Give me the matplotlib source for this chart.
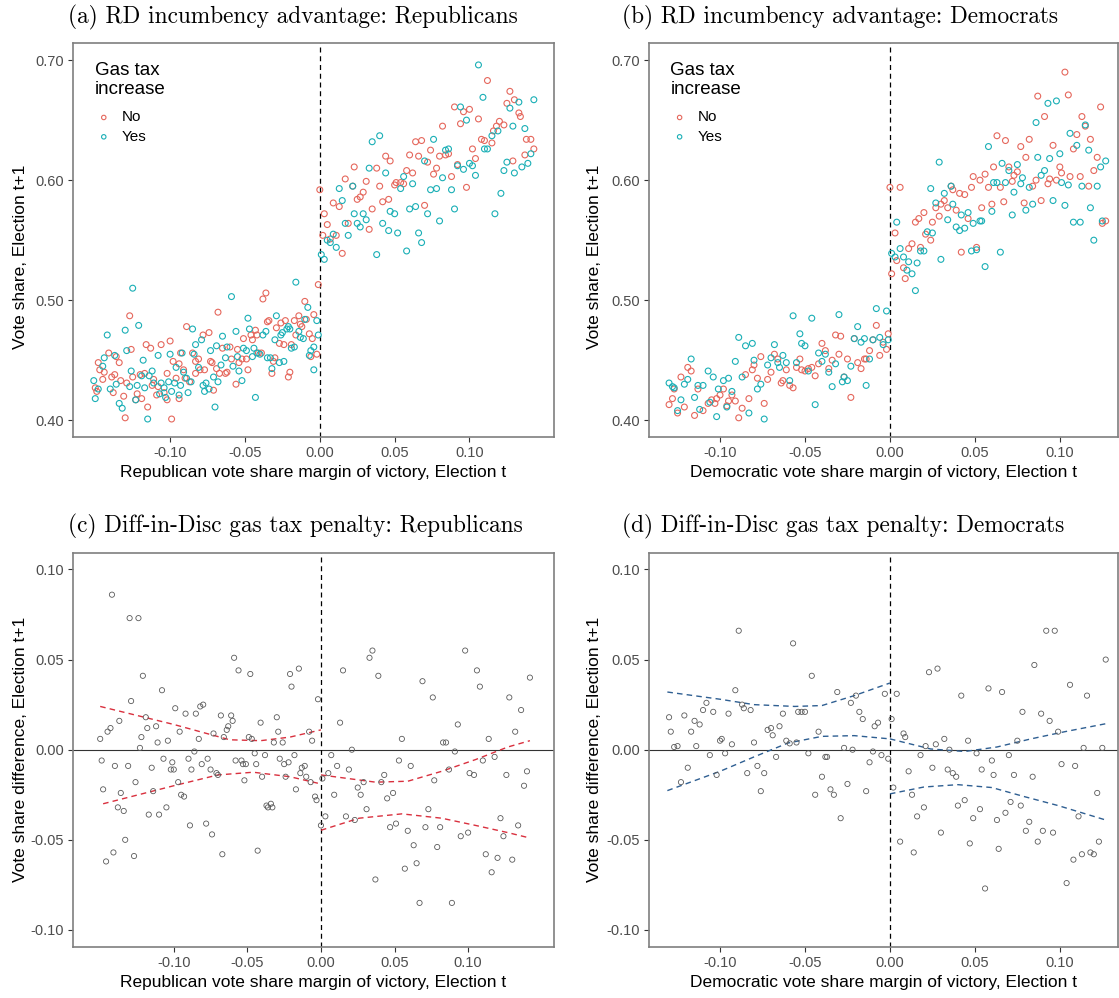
import matplotlib.pyplot as plt

plt.rcParams['axes.unicode_minus'] = False
plt.rcParams['font.family'] = ['Liberation Sans', 'DejaVu Sans']

# (a) Republicans, RD plot: (margin, vote share t+1)
a_no = [(-0.148, 0.448), (-0.147, 0.442), (-0.144, 0.440), (-0.145, 0.434), (-0.150, 0.427), (-0.149, 0.424),
        (-0.141, 0.456), (-0.139, 0.436), (-0.137, 0.438), (-0.138, 0.423), (-0.136, 0.453), (-0.134, 0.448),
        (-0.133, 0.433), (-0.131, 0.420), (-0.130, 0.402), (-0.129, 0.431), (-0.127, 0.487), (-0.126, 0.459),
        (-0.125, 0.436), (-0.122, 0.422), (-0.123, 0.417), (-0.120, 0.438), (-0.119, 0.418), (-0.117, 0.439),
        (-0.116, 0.463), (-0.115, 0.411), (-0.113, 0.460), (-0.112, 0.429), (-0.111, 0.434), (-0.109, 0.421),
        (-0.108, 0.428), (-0.106, 0.463), (-0.104, 0.423), (-0.102, 0.417), (-0.102, 0.439), (-0.100, 0.466),
        (-0.099, 0.401), (-0.098, 0.449), (-0.096, 0.435), (-0.094, 0.447), (-0.094, 0.418), (-0.093, 0.456),
        (-0.091, 0.442), (-0.090, 0.435), (-0.089, 0.478), (-0.087, 0.432), (-0.085, 0.456), (-0.083, 0.449),
        (-0.083, 0.439), (-0.081, 0.451), (-0.080, 0.442), (-0.078, 0.471), (-0.077, 0.442), (-0.074, 0.473),
        (-0.073, 0.449), (-0.072, 0.448), (-0.071, 0.425), (-0.069, 0.443), (-0.068, 0.490), (-0.067, 0.439),
        (-0.065, 0.460), (-0.063, 0.439), (-0.062, 0.440), (-0.060, 0.461), (-0.059, 0.451), (-0.056, 0.430),
        (-0.055, 0.459), (-0.054, 0.448), (-0.052, 0.451), (-0.051, 0.468), (-0.049, 0.451), (-0.048, 0.442),
        (-0.046, 0.471), (-0.045, 0.467), (-0.043, 0.475), (-0.042, 0.471), (-0.041, 0.456), (-0.039, 0.456),
        (-0.038, 0.501), (-0.036, 0.506), (-0.035, 0.482), (-0.034, 0.483), (-0.032, 0.439), (-0.031, 0.449),
        (-0.030, 0.452), (-0.029, 0.477), (-0.027, 0.464), (-0.026, 0.481), (-0.024, 0.463), (-0.023, 0.483),
        (-0.021, 0.436), (-0.020, 0.440), (-0.019, 0.463), (-0.017, 0.483), (-0.016, 0.471), (-0.014, 0.487),
        (-0.013, 0.480), (-0.012, 0.478), (-0.010, 0.499), (-0.009, 0.484), (-0.007, 0.472), (-0.006, 0.453),
        (-0.005, 0.468), (-0.004, 0.488), (-0.002, 0.455), (-0.001, 0.513),
        (0.000, 0.592), (0.003, 0.572), (0.005, 0.563), (0.002, 0.554), (0.007, 0.551), (0.009, 0.581),
        (0.011, 0.554), (0.013, 0.578), (0.015, 0.539), (0.017, 0.601), (0.019, 0.564), (0.022, 0.595),
        (0.023, 0.611), (0.025, 0.584), (0.027, 0.586), (0.029, 0.590), (0.031, 0.599), (0.033, 0.559),
        (0.035, 0.576), (0.038, 0.610), (0.040, 0.595), (0.042, 0.582), (0.044, 0.620), (0.046, 0.584),
        (0.047, 0.616), (0.050, 0.596), (0.051, 0.598), (0.054, 0.598), (0.056, 0.597), (0.058, 0.608),
        (0.060, 0.621), (0.062, 0.606), (0.064, 0.632), (0.066, 0.620), (0.068, 0.633), (0.070, 0.579),
        (0.072, 0.615), (0.074, 0.625), (0.076, 0.605), (0.078, 0.610), (0.080, 0.620), (0.082, 0.645),
        (0.084, 0.621), (0.086, 0.622), (0.088, 0.603), (0.090, 0.661), (0.092, 0.613), (0.094, 0.647),
        (0.096, 0.657), (0.098, 0.594), (0.100, 0.659), (0.102, 0.626), (0.104, 0.618), (0.106, 0.651),
        (0.108, 0.634), (0.110, 0.633), (0.112, 0.683), (0.115, 0.631), (0.116, 0.641), (0.118, 0.645),
        (0.120, 0.649), (0.123, 0.646), (0.125, 0.664), (0.127, 0.674), (0.129, 0.616), (0.130, 0.667),
        (0.133, 0.656), (0.134, 0.653), (0.137, 0.621), (0.138, 0.634), (0.141, 0.634), (0.143, 0.626)]

a_yes = [(-0.151, 0.433), (-0.148, 0.426), (-0.150, 0.418), (-0.145, 0.445), (-0.144, 0.452), (-0.142, 0.471),
         (-0.140, 0.426), (-0.137, 0.454), (-0.136, 0.430), (-0.134, 0.414), (-0.132, 0.410), (-0.130, 0.475),
         (-0.129, 0.458), (-0.127, 0.428), (-0.126, 0.441), (-0.125, 0.510), (-0.123, 0.417), (-0.122, 0.429),
         (-0.121, 0.479), (-0.119, 0.437), (-0.118, 0.450), (-0.117, 0.427), (-0.115, 0.401), (-0.114, 0.437),
         (-0.112, 0.441), (-0.111, 0.431), (-0.108, 0.454), (-0.107, 0.422), (-0.106, 0.431), (-0.104, 0.427),
         (-0.103, 0.419), (-0.101, 0.432), (-0.100, 0.455), (-0.099, 0.424), (-0.097, 0.431), (-0.096, 0.444),
         (-0.094, 0.421), (-0.093, 0.429), (-0.092, 0.456), (-0.091, 0.440), (-0.089, 0.435), (-0.088, 0.423),
         (-0.086, 0.432), (-0.085, 0.476), (-0.084, 0.455), (-0.083, 0.463), (-0.081, 0.444), (-0.079, 0.467),
         (-0.078, 0.429), (-0.077, 0.424), (-0.076, 0.431), (-0.074, 0.426), (-0.073, 0.458), (-0.071, 0.436),
         (-0.070, 0.411), (-0.069, 0.462), (-0.068, 0.432), (-0.066, 0.446), (-0.065, 0.470), (-0.063, 0.452),
         (-0.062, 0.461), (-0.059, 0.503), (-0.058, 0.445), (-0.056, 0.474), (-0.055, 0.453), (-0.054, 0.441),
         (-0.052, 0.433), (-0.051, 0.460), (-0.049, 0.458), (-0.048, 0.485), (-0.047, 0.476), (-0.045, 0.453),
         (-0.044, 0.460), (-0.043, 0.419), (-0.042, 0.456), (-0.040, 0.455), (-0.038, 0.471), (-0.036, 0.474),
         (-0.035, 0.452), (-0.033, 0.452), (-0.032, 0.443), (-0.030, 0.467), (-0.029, 0.487), (-0.027, 0.448),
         (-0.026, 0.471), (-0.025, 0.473), (-0.024, 0.449), (-0.022, 0.476), (-0.021, 0.478), (-0.020, 0.476),
         (-0.019, 0.460), (-0.017, 0.461), (-0.016, 0.515), (-0.014, 0.474), (-0.013, 0.469), (-0.011, 0.468),
         (-0.010, 0.484), (-0.008, 0.494), (-0.007, 0.454), (-0.006, 0.458), (-0.004, 0.442), (-0.004, 0.461),
         (-0.002, 0.483), (-0.001, 0.471),
         (0.001, 0.538), (0.003, 0.534), (0.005, 0.550), (0.007, 0.548), (0.009, 0.555), (0.011, 0.544),
         (0.013, 0.593), (0.015, 0.583), (0.017, 0.564), (0.019, 0.554), (0.022, 0.595), (0.023, 0.572),
         (0.025, 0.564), (0.027, 0.561), (0.029, 0.572), (0.031, 0.567), (0.033, 0.610), (0.035, 0.632),
         (0.038, 0.538), (0.040, 0.637), (0.042, 0.564), (0.044, 0.606), (0.046, 0.558), (0.047, 0.574),
         (0.050, 0.572), (0.052, 0.556), (0.054, 0.593), (0.056, 0.603), (0.058, 0.541), (0.060, 0.576),
         (0.062, 0.597), (0.064, 0.578), (0.066, 0.556), (0.068, 0.548), (0.070, 0.616), (0.072, 0.572),
         (0.074, 0.592), (0.076, 0.634), (0.078, 0.593), (0.080, 0.566), (0.082, 0.602), (0.084, 0.625),
         (0.086, 0.626), (0.088, 0.592), (0.090, 0.576), (0.092, 0.612), (0.094, 0.661), (0.096, 0.609),
         (0.098, 0.650), (0.100, 0.614), (0.102, 0.612), (0.104, 0.604), (0.106, 0.696), (0.109, 0.669),
         (0.110, 0.626), (0.112, 0.626), (0.115, 0.637), (0.117, 0.572), (0.119, 0.641), (0.121, 0.589),
         (0.123, 0.608), (0.125, 0.615), (0.127, 0.660), (0.129, 0.645), (0.130, 0.606), (0.133, 0.665),
         (0.135, 0.611), (0.137, 0.643), (0.139, 0.614), (0.141, 0.622), (0.143, 0.667)]

# (b) Democrats, RD plot
b_no = [(-0.130, 0.413), (-0.128, 0.418), (-0.127, 0.426), (-0.125, 0.406), (-0.123, 0.436), (-0.121, 0.411),
        (-0.119, 0.444), (-0.117, 0.441), (-0.115, 0.404), (-0.113, 0.426), (-0.110, 0.408), (-0.107, 0.414),
        (-0.105, 0.417), (-0.103, 0.414), (-0.102, 0.418), (-0.100, 0.421), (-0.098, 0.426), (-0.096, 0.412),
        (-0.095, 0.416), (-0.093, 0.421), (-0.091, 0.416), (-0.089, 0.402), (-0.087, 0.410), (-0.085, 0.438),
        (-0.083, 0.418), (-0.081, 0.442), (-0.080, 0.446), (-0.078, 0.435), (-0.076, 0.453), (-0.074, 0.414),
        (-0.072, 0.434), (-0.070, 0.440), (-0.068, 0.455), (-0.066, 0.451), (-0.064, 0.431), (-0.063, 0.433),
        (-0.061, 0.442), (-0.059, 0.429), (-0.057, 0.427), (-0.055, 0.444), (-0.053, 0.451), (-0.052, 0.442),
        (-0.050, 0.441), (-0.048, 0.443), (-0.046, 0.444), (-0.044, 0.437), (-0.042, 0.447), (-0.040, 0.464),
        (-0.038, 0.458), (-0.036, 0.443), (-0.034, 0.450), (-0.032, 0.471), (-0.030, 0.455), (-0.029, 0.470),
        (-0.027, 0.436), (-0.025, 0.451), (-0.023, 0.419), (-0.021, 0.468), (-0.019, 0.448), (-0.017, 0.443),
        (-0.015, 0.451), (-0.014, 0.451), (-0.012, 0.458), (-0.010, 0.467), (-0.008, 0.479), (-0.006, 0.454),
        (-0.004, 0.465), (-0.002, 0.459), (-0.001, 0.472),
        (0.000, 0.594), (0.006, 0.594), (0.003, 0.556), (0.001, 0.522), (0.004, 0.533), (0.008, 0.527),
        (0.009, 0.518), (0.011, 0.543), (0.013, 0.547), (0.015, 0.565), (0.017, 0.568), (0.018, 0.544),
        (0.020, 0.573), (0.021, 0.555), (0.024, 0.550), (0.025, 0.565), (0.027, 0.577), (0.029, 0.570),
        (0.030, 0.580), (0.032, 0.583), (0.034, 0.577), (0.036, 0.595), (0.037, 0.592), (0.039, 0.575),
        (0.041, 0.589), (0.042, 0.540), (0.044, 0.588), (0.046, 0.568), (0.048, 0.594), (0.049, 0.603),
        (0.051, 0.544), (0.053, 0.600), (0.054, 0.577), (0.056, 0.605), (0.058, 0.594), (0.060, 0.580),
        (0.061, 0.611), (0.063, 0.637), (0.065, 0.594), (0.067, 0.582), (0.068, 0.633), (0.070, 0.611),
        (0.072, 0.599), (0.073, 0.604), (0.075, 0.607), (0.077, 0.628), (0.079, 0.581), (0.080, 0.619),
        (0.082, 0.634), (0.084, 0.595), (0.086, 0.600), (0.087, 0.670), (0.089, 0.583), (0.091, 0.653),
        (0.093, 0.597), (0.094, 0.601), (0.096, 0.629), (0.098, 0.600), (0.100, 0.611), (0.101, 0.606),
        (0.103, 0.690), (0.105, 0.671), (0.106, 0.603), (0.108, 0.626), (0.110, 0.638), (0.112, 0.603),
        (0.113, 0.653), (0.115, 0.645), (0.117, 0.595), (0.118, 0.634), (0.120, 0.608), (0.122, 0.619),
        (0.124, 0.661), (0.125, 0.564), (0.127, 0.566)]

b_yes = [(-0.130, 0.431), (-0.128, 0.428), (-0.127, 0.427), (-0.125, 0.408), (-0.123, 0.417), (-0.121, 0.430),
         (-0.119, 0.434), (-0.117, 0.451), (-0.115, 0.419), (-0.113, 0.429), (-0.112, 0.409), (-0.110, 0.429),
         (-0.107, 0.441), (-0.106, 0.415), (-0.104, 0.436), (-0.102, 0.403), (-0.101, 0.426), (-0.098, 0.433),
         (-0.096, 0.411), (-0.095, 0.435), (-0.093, 0.424), (-0.091, 0.449), (-0.089, 0.469), (-0.087, 0.436),
         (-0.085, 0.462), (-0.083, 0.406), (-0.081, 0.464), (-0.080, 0.450), (-0.078, 0.426), (-0.076, 0.430),
         (-0.074, 0.401), (-0.072, 0.446), (-0.070, 0.452), (-0.068, 0.463), (-0.066, 0.448), (-0.065, 0.444),
         (-0.063, 0.454), (-0.061, 0.448), (-0.059, 0.433), (-0.057, 0.487), (-0.055, 0.448), (-0.053, 0.472),
         (-0.052, 0.464), (-0.050, 0.462), (-0.048, 0.441), (-0.046, 0.485), (-0.044, 0.413), (-0.042, 0.456),
         (-0.040, 0.449), (-0.038, 0.455), (-0.036, 0.440), (-0.034, 0.428), (-0.032, 0.447), (-0.030, 0.488),
         (-0.028, 0.432), (-0.027, 0.436), (-0.025, 0.433), (-0.023, 0.445), (-0.021, 0.468), (-0.019, 0.478),
         (-0.017, 0.465), (-0.015, 0.468), (-0.014, 0.429), (-0.012, 0.451), (-0.010, 0.467), (-0.008, 0.493),
         (-0.006, 0.469), (-0.004, 0.463), (-0.002, 0.491), (-0.001, 0.467),
         (0.001, 0.539), (0.003, 0.536), (0.004, 0.565), (0.006, 0.543), (0.008, 0.536), (0.010, 0.525),
         (0.011, 0.532), (0.013, 0.522), (0.015, 0.508), (0.016, 0.531), (0.018, 0.541), (0.020, 0.541),
         (0.022, 0.557), (0.024, 0.593), (0.025, 0.556), (0.027, 0.581), (0.029, 0.615), (0.030, 0.534),
         (0.032, 0.589), (0.034, 0.567), (0.036, 0.595), (0.037, 0.580), (0.039, 0.561), (0.041, 0.558),
         (0.042, 0.571), (0.044, 0.560), (0.046, 0.573), (0.048, 0.541), (0.049, 0.564), (0.051, 0.542),
         (0.053, 0.566), (0.054, 0.566), (0.056, 0.528), (0.058, 0.628), (0.060, 0.574), (0.061, 0.598),
         (0.063, 0.598), (0.065, 0.540), (0.066, 0.614), (0.068, 0.598), (0.070, 0.608), (0.072, 0.571),
         (0.073, 0.590), (0.075, 0.613), (0.077, 0.597), (0.078, 0.602), (0.080, 0.575), (0.082, 0.594),
         (0.084, 0.580), (0.086, 0.648), (0.087, 0.619), (0.089, 0.604), (0.091, 0.608), (0.093, 0.664),
         (0.094, 0.618), (0.096, 0.583), (0.098, 0.666), (0.100, 0.622), (0.101, 0.598), (0.103, 0.579),
         (0.105, 0.596), (0.106, 0.639), (0.108, 0.565), (0.110, 0.629), (0.112, 0.565), (0.113, 0.595),
         (0.115, 0.646), (0.117, 0.625), (0.118, 0.577), (0.120, 0.550), (0.122, 0.595), (0.124, 0.611),
         (0.125, 0.566), (0.127, 0.616)]

# (c) Republicans, diff-in-disc: (margin, vote share difference)
c_pts = [(-0.142, 0.086), (-0.130, 0.073), (-0.124, 0.073), (-0.121, 0.041), (-0.129, 0.027), (-0.108, 0.033),
         (-0.150, 0.006), (-0.145, 0.010), (-0.143, 0.012), (-0.137, 0.016), (-0.122, 0.007), (-0.119, 0.018),
         (-0.118, 0.012), (-0.112, 0.013), (-0.111, 0.004), (-0.104, 0.005), (-0.123, 0.001), (-0.099, 0.023),
         (-0.096, 0.010), (-0.092, 0.020), (-0.085, 0.020), (-0.082, 0.024), (-0.080, 0.025), (-0.083, 0.006),
         (-0.086, -0.001), (-0.073, 0.009), (-0.068, 0.019), (-0.066, 0.007), (-0.064, 0.011), (-0.063, 0.013),
         (-0.061, 0.019), (-0.060, 0.016), (-0.059, 0.051), (-0.056, 0.044), (-0.048, 0.042), (-0.049, 0.007),
         (-0.047, 0.006), (-0.041, 0.015), (-0.030, 0.018), (-0.029, 0.010), (-0.032, 0.004), (-0.026, 0.004),
         (-0.021, 0.042), (-0.020, 0.035), (-0.015, 0.045), (-0.008, 0.010), (-0.006, 0.005), (-0.002, 0.028),
         (-0.149, -0.006), (-0.140, -0.009), (-0.131, -0.009), (-0.115, -0.010), (-0.107, -0.005), (-0.101, -0.007),
         (-0.102, -0.011), (-0.100, -0.011), (-0.090, -0.005), (-0.088, -0.011), (-0.081, -0.008), (-0.077, -0.005),
         (-0.075, -0.011), (-0.071, -0.013), (-0.070, -0.014), (-0.058, -0.006), (-0.054, -0.006), (-0.053, -0.008),
         (-0.051, -0.008), (-0.045, -0.002), (-0.044, -0.008), (-0.038, -0.003), (-0.028, -0.005), (-0.025, -0.008),
         (-0.022, -0.007), (-0.018, -0.003), (-0.014, -0.013), (-0.013, -0.010), (-0.011, -0.009), (-0.010, -0.015),
         (-0.007, -0.018), (-0.024, -0.015), (-0.040, -0.015), (-0.052, -0.017), (-0.126, -0.018), (-0.148, -0.022),
         (-0.136, -0.024), (-0.114, -0.023), (-0.097, -0.018), (-0.095, -0.025), (-0.093, -0.026), (-0.138, -0.032),
         (-0.134, -0.034), (-0.105, -0.032), (-0.117, -0.036), (-0.110, -0.036), (-0.089, -0.042), (-0.078, -0.041),
         (-0.074, -0.047), (-0.037, -0.031), (-0.036, -0.032), (-0.034, -0.030), (-0.033, -0.032), (-0.017, -0.022),
         (-0.004, -0.026), (-0.003, -0.028), (0.000, -0.042), (-0.133, -0.050), (-0.141, -0.057), (-0.146, -0.062),
         (-0.127, -0.059), (-0.067, -0.058), (-0.043, -0.056),
         (0.001, -0.016), (0.003, -0.037), (0.005, -0.013), (0.007, -0.003), (0.009, -0.025), (0.011, -0.009),
         (0.013, 0.015), (0.015, 0.044), (0.017, -0.037), (0.019, -0.011), (0.021, 0.000), (0.023, -0.039),
         (0.025, -0.021), (0.027, -0.025), (0.029, -0.018), (0.031, -0.033), (0.033, 0.051), (0.035, 0.055),
         (0.037, -0.072), (0.039, 0.041), (0.041, -0.018), (0.043, -0.014), (0.045, -0.027), (0.047, -0.043),
         (0.049, -0.024), (0.051, -0.041), (0.053, -0.006), (0.055, 0.006), (0.057, -0.066), (0.059, -0.045),
         (0.061, -0.009), (0.063, -0.053), (0.065, -0.063), (0.067, -0.085), (0.069, 0.038), (0.071, -0.043),
         (0.073, -0.033), (0.076, 0.029), (0.077, -0.017), (0.079, -0.054), (0.081, -0.043), (0.083, 0.004),
         (0.085, 0.004), (0.087, -0.011), (0.089, -0.085), (0.091, -0.001), (0.093, 0.014), (0.095, -0.048),
         (0.098, 0.055), (0.100, -0.046), (0.101, -0.013), (0.104, -0.014), (0.106, 0.044), (0.108, 0.035),
         (0.110, -0.006), (0.112, -0.058), (0.114, 0.006), (0.116, -0.068), (0.118, -0.004), (0.120, -0.060),
         (0.122, -0.038), (0.124, -0.048), (0.126, -0.014), (0.128, 0.029), (0.130, -0.061), (0.132, 0.010),
         (0.134, -0.042), (0.136, 0.022), (0.138, -0.020), (0.140, -0.012), (0.142, 0.040)]

# (c) confidence band
c_left_hi = [(-0.150, 0.024), (-0.100, 0.014), (-0.062, 0.0055), (-0.041, 0.005), (-0.021, 0.007), (0.0, 0.011)]
c_left_lo = [(-0.148, -0.030), (-0.100, -0.020), (-0.070, -0.014), (-0.046, -0.0125), (-0.021, -0.015), (0.0, -0.019)]
c_right_hi = [(0.0, -0.014), (0.037, -0.018), (0.059, -0.0175), (0.082, -0.012), (0.105, -0.0055), (0.127, 0.0015), (0.142, 0.005)]
c_right_lo = [(0.0, -0.0447), (0.026, -0.038), (0.055, -0.0356), (0.082, -0.038), (0.105, -0.042), (0.127, -0.046), (0.142, -0.049)]

# (d) Democrats, diff-in-disc
d_pts = [(-0.130, 0.018), (-0.129, 0.010), (-0.127, 0.0015), (-0.125, 0.002), (-0.123, -0.018), (-0.121, 0.019),
         (-0.119, -0.010), (-0.117, 0.010), (-0.115, 0.016), (-0.114, 0.002), (-0.112, 0.014), (-0.110, 0.022),
         (-0.108, 0.026), (-0.106, -0.003), (-0.104, 0.021), (-0.102, -0.014), (-0.100, 0.005), (-0.099, 0.006),
         (-0.097, -0.002), (-0.095, 0.020), (-0.093, 0.003), (-0.091, 0.033), (-0.089, 0.066), (-0.087, 0.025),
         (-0.086, 0.023), (-0.084, -0.013), (-0.082, 0.022), (-0.080, 0.004), (-0.078, -0.009), (-0.076, -0.023),
         (-0.074, -0.013), (-0.072, 0.011), (-0.070, 0.012), (-0.069, 0.008), (-0.067, -0.004), (-0.065, 0.013),
         (-0.063, 0.020), (-0.061, 0.005), (-0.059, 0.0035), (-0.057, 0.059), (-0.055, 0.004), (-0.054, 0.021),
         (-0.052, 0.021), (-0.050, 0.021), (-0.048, -0.002), (-0.046, 0.041), (-0.044, -0.025), (-0.042, 0.010),
         (-0.040, -0.015), (-0.038, -0.004), (-0.037, -0.004), (-0.035, -0.022), (-0.033, -0.025), (-0.031, 0.032),
         (-0.029, -0.038), (-0.027, 0.001), (-0.025, -0.019), (-0.023, 0.026), (-0.022, 0.000), (-0.020, 0.030),
         (-0.018, 0.021), (-0.016, 0.017), (-0.014, -0.023), (-0.012, -0.007), (-0.010, -0.001), (-0.009, 0.013),
         (-0.007, 0.015), (-0.005, -0.003), (-0.003, 0.031), (-0.001, -0.005),
         (0.001, 0.017), (0.002, -0.021), (0.004, 0.031), (0.006, -0.051), (0.008, 0.009), (0.009, 0.007),
         (0.011, -0.012), (0.013, -0.025), (0.014, -0.057), (0.016, -0.037), (0.018, -0.003), (0.020, -0.032),
         (0.021, 0.002), (0.023, 0.043), (0.025, -0.010), (0.027, 0.003), (0.028, 0.045), (0.030, -0.046),
         (0.032, 0.006), (0.034, -0.011), (0.035, 0.000), (0.037, -0.013), (0.039, -0.015), (0.040, -0.031),
         (0.042, 0.030), (0.044, -0.028), (0.046, 0.005), (0.047, -0.052), (0.049, -0.038), (0.051, -0.002),
         (0.053, -0.033), (0.054, -0.011), (0.056, -0.077), (0.058, 0.034), (0.060, -0.006), (0.061, -0.014),
         (0.063, -0.039), (0.064, -0.055), (0.066, 0.032), (0.068, -0.035), (0.070, -0.003), (0.071, -0.029),
         (0.073, -0.014), (0.075, 0.005), (0.077, -0.031), (0.078, 0.021), (0.080, -0.045), (0.082, -0.040),
         (0.084, -0.015), (0.085, 0.047), (0.087, -0.051), (0.089, 0.020), (0.090, -0.045), (0.092, 0.066),
         (0.094, 0.016), (0.096, -0.046), (0.097, 0.066), (0.099, 0.010), (0.101, -0.008), (0.104, -0.074),
         (0.106, 0.036), (0.108, -0.061), (0.109, -0.009), (0.111, -0.037), (0.113, -0.058), (0.114, 0.001),
         (0.116, 0.030), (0.118, -0.057), (0.120, -0.058), (0.122, -0.024), (0.123, -0.051), (0.125, 0.001),
         (0.127, 0.050)]

d_left_hi = [(-0.131, 0.032), (-0.100, 0.028), (-0.080, 0.025), (-0.056, 0.024), (-0.040, 0.0245), (-0.021, 0.030), (0.0, 0.037)]
d_left_lo = [(-0.131, -0.0227), (-0.100, -0.012), (-0.080, -0.004), (-0.060, 0.0037), (-0.040, 0.0074), (-0.021, 0.0078), (0.0, 0.006)]
d_right_hi = [(0.0, 0.006), (0.024, 0.0004), (0.044, -0.001), (0.063, 0.0015), (0.083, 0.006), (0.103, 0.010), (0.127, 0.0144)]
d_right_lo = [(0.0, -0.0245), (0.020, -0.0207), (0.040, -0.0194), (0.060, -0.021), (0.079, -0.026), (0.099, -0.031), (0.127, -0.039)]

x_ticks = [-0.10, -0.05, 0.00, 0.05, 0.10]
top_yticks = [0.40, 0.50, 0.60, 0.70]
bot_yticks = [-0.10, -0.05, 0.00, 0.05, 0.10]

RED = '#E5675C'
TEAL = '#1AAFB6'
GREY_PT = '#5a5a5a'
TITLE_FONT = 'cmr10'

fig = plt.figure(figsize=(11.19, 9.98), dpi=100)
ax_a = fig.add_axes([0.0652, 0.5621, 0.4298, 0.3951])
ax_b = fig.add_axes([0.5803, 0.5621, 0.4189, 0.3951])
ax_c = fig.add_axes([0.0652, 0.0514, 0.4298, 0.3948])
ax_d = fig.add_axes([0.5803, 0.0514, 0.4189, 0.3948])


def style(ax, xlabel, ylabel, xlim, ylim, yticks, ylab_x, ylab_y):
    ax.set_xlim(xlim)
    ax.set_ylim(ylim)
    ax.set_xticks(x_ticks)
    ax.set_xticklabels(['%.2f' % t for t in x_ticks])
    ax.set_yticks(yticks)
    ax.set_yticklabels(['%.2f' % t for t in yticks])
    ax.tick_params(length=3.5, width=0.8, pad=3, color='#333333', labelcolor='#4d4d4d', labelsize=10.5)
    for s in ax.spines.values():
        s.set_color('#7f7f7f')
        s.set_linewidth(1.2)
    ax.set_xlabel(xlabel, fontsize=12.5, va='center')
    ax.set_ylabel(ylabel, fontsize=12.5, va='center', ha='center')
    ax.xaxis.set_label_coords(0.5, -0.09)
    ax.yaxis.set_label_coords(ylab_x, ylab_y)
    ax.axvline(0, color='black', linestyle=(0, (4, 3)), linewidth=0.9, zorder=1)


def scatter(ax, pts, color, label=None, size=18, lw=0.8):
    xs, ys = zip(*pts)
    ax.scatter(xs, ys, s=size, facecolors='none', edgecolors=color, linewidths=lw, label=label, zorder=3)


def curve(ax, pts, color):
    xs, ys = zip(*pts)
    ax.plot(xs, ys, color=color, linestyle=(0, (4, 3)), linewidth=1.0, zorder=2)


# panel titles, left-aligned like ggplot's plot titles
fig.text(0.0608, 0.977, '(a) RD incumbency advantage: Republicans', fontfamily=TITLE_FONT, fontsize=16.8, va='baseline')
fig.text(0.5558, 0.977, '(b) RD incumbency advantage: Democrats', fontfamily=TITLE_FONT, fontsize=16.8, va='baseline')
fig.text(0.0608, 0.466, '(c) Diff-in-Disc gas tax penalty: Republicans', fontfamily=TITLE_FONT, fontsize=16.8, va='baseline')
fig.text(0.5558, 0.466, '(d) Diff-in-Disc gas tax penalty: Democrats', fontfamily=TITLE_FONT, fontsize=16.8, va='baseline')

# top row
for ax, no, yes, xl, xlim, lx in [
        (ax_a, a_no, a_yes, 'Republican vote share margin of victory, Election t', (-0.1649, 0.1564), -0.110),
        (ax_b, b_no, b_yes, 'Democratic vote share margin of victory, Election t', (-0.1416, 0.1343), -0.118)]:
    scatter(ax, no, RED, 'No')
    scatter(ax, yes, TEAL, 'Yes')
    style(ax, xl, 'Vote share, Election t+1', xlim, (0.386, 0.7145), top_yticks, lx, 0.457)
    leg = ax.legend(title='Gas tax\nincrease', loc='upper left', bbox_to_anchor=(0.045, 0.95),
                    frameon=False, fontsize=11, title_fontsize=13.5, markerscale=0.75,
                    handletextpad=0.6, handlelength=1.2, borderaxespad=0, borderpad=0,
                    labelspacing=0.35)
    leg._legend_box.align = 'left'
    leg._legend_box.sep = 9
    leg.get_title().set_linespacing(1.12)

# bottom row
for ax, pts, curves, color, xl, xlim, lx in [
        (ax_c, c_pts, [c_left_hi, c_left_lo, c_right_hi, c_right_lo], '#D9303E',
         'Republican vote share margin of victory, Election t', (-0.1685, 0.1583), -0.110),
        (ax_d, d_pts, [d_left_hi, d_left_lo, d_right_hi, d_right_lo], '#2F5F92',
         'Democratic vote share margin of victory, Election t', (-0.1416, 0.1343), -0.118)]:
    ax.axhline(0, color='#333333', linewidth=0.8, zorder=1)
    scatter(ax, pts, GREY_PT, size=14, lw=0.6)
    for cv in curves:
        curve(ax, cv, color)
    style(ax, xl, 'Vote share difference, Election t+1', xlim, (-0.1093, 0.1093), bot_yticks, lx, 0.5)

fig.savefig('out.png', dpi=100)
